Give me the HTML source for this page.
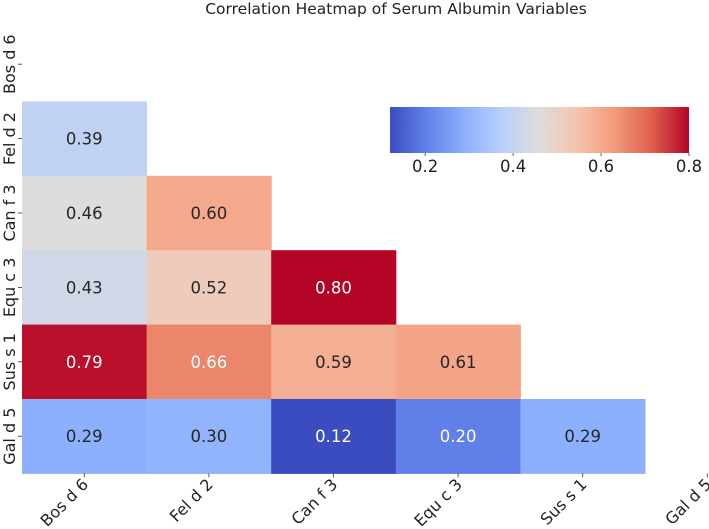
<!DOCTYPE html>
<html><head><meta charset="utf-8"><style>
html,body{margin:0;padding:0;background:#fff;}
svg{display:block;font-family:"DejaVu Sans","Liberation Sans",sans-serif;}
</style></head><body>
<svg id="chart" width="709" height="529" viewBox="0 0 709 529" xmlns="http://www.w3.org/2000/svg">
<defs>
<linearGradient id="cw" x1="0" x2="1" y1="0" y2="0">
<stop offset="0" stop-color="#3b4cc0"/><stop offset="0.125" stop-color="#6282ea"/><stop offset="0.25" stop-color="#8db0fe"/><stop offset="0.375" stop-color="#b8d0f9"/><stop offset="0.5" stop-color="#dddddd"/><stop offset="0.625" stop-color="#f5c4ad"/><stop offset="0.75" stop-color="#f49a7b"/><stop offset="0.875" stop-color="#de604d"/><stop offset="1" stop-color="#b40426"/>
</linearGradient>
</defs>
<text x="396" y="14" text-anchor="middle" font-size="15.5" fill="#222">Correlation Heatmap of Serum Albumin Variables</text>
<g id="cells"></g>
<g id="axes"></g>
<g id="cbar"></g>
</svg>
<script>
const labels = ["Bos d 6","Fel d 2","Can f 3","Equ c 3","Sus s 1","Gal d 5"];
const row1 = [0.39];
const row2 = [0.46,0.60];
const row3 = [0.43,0.52,0.80];
const row4 = [0.79,0.66,0.59,0.61];
const row5 = [0.29,0.30,0.12,0.20,0.29];
const cbarTicks = [0.2,0.4,0.6,0.8];
const rows = [[],row1,row2,row3,row4,row5];
const vmin = 0.12, vmax = 0.80;

const NS="http://www.w3.org/2000/svg";
const L=22, T=27, CW=124.6, CH=74.4;
const xPos = j => L + j*CW;
const yPos = i => T + i*CH;
const stops=[[59,76,192],[98,130,234],[141,176,254],[184,208,249],[221,221,221],[245,196,173],[244,154,123],[222,96,77],[180,4,38]];
function cmap(v){
  let t=(v-vmin)/(vmax-vmin); t=Math.max(0,Math.min(1,t));
  const p=t*8, k=Math.min(7,Math.floor(p)), f=p-k;
  const c=stops[k].map((a,n)=>Math.round(a+(stops[k+1][n]-a)*f));
  return `rgb(${c[0]},${c[1]},${c[2]})`;
}
function mk(tag,attrs,parent){const e=document.createElementNS(NS,tag);for(const k in attrs)e.setAttribute(k,attrs[k]);parent.appendChild(e);return e;}
const gc=document.getElementById('cells');
rows.forEach((r,i)=>{r.forEach((v,j)=>{
  const rc=mk('rect',{x:xPos(j),y:yPos(i),width:CW+0.5,height:CH+0.5,fill:cmap(v)},gc);
  
  
  const t=mk('text',{x:xPos(j)+CW/2,y:yPos(i)+CH/2+6,'text-anchor':'middle','font-size':16.5,fill:(v>0.64||v<0.22)?'#fff':'#262626'},gc);
  t.textContent=v.toFixed(2);
  
  
});});
const ga=document.getElementById('axes');
labels.forEach((lab,i)=>{
  const cy=yPos(i)+CH/2;
  mk('line',{x1:18,x2:22,y1:cy,y2:cy,stroke:'#333','stroke-width':0.8},ga);
  const t=mk('text',{x:0,y:0,transform:`translate(15,${cy}) rotate(-90)`,'text-anchor':'middle','font-size':16,fill:'#222'},ga);
  t.textContent=lab;
  
  
  const cx=xPos(i)+CW/2, by=yPos(6);
  mk('line',{x1:cx,x2:cx,y1:by,y2:by+4,stroke:'#333','stroke-width':0.8},ga);
  const u=mk('text',{x:0,y:0,transform:`translate(${cx+5},${by+12}) rotate(-45)`,'text-anchor':'end','font-size':16,fill:'#222'},ga);
  u.textContent=lab;
  
  
});
const gb=document.getElementById('cbar');
const BX0=390,BX1=689,BY=107,BH=46;
const bx=v=>BX0+(v-vmin)/(vmax-vmin)*(BX1-BX0);
const bar=mk('rect',{x:BX0,y:BY,width:BX1-BX0,height:BH,fill:'url(#cw)'},gb);


cbarTicks.forEach(v=>{
  const x=bx(v);
  mk('line',{x1:x,x2:x,y1:BY+BH,y2:BY+BH+3,stroke:'#333','stroke-width':0.8},gb);
  const t=mk('text',{x:x,y:BY+BH+19,'text-anchor':'middle','font-size':16.5,fill:'#222'},gb);
  t.textContent=v.toFixed(1);
  
  
});
</script>
</body></html>
